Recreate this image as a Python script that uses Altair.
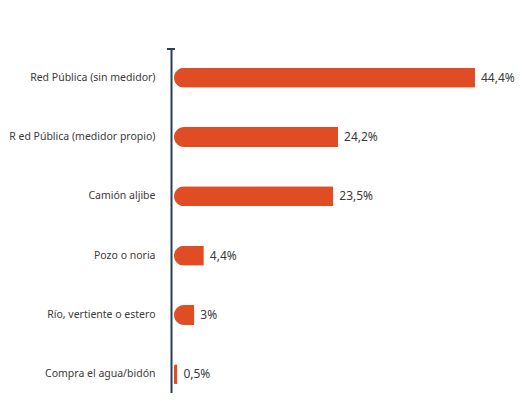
import altair as alt
import pandas as pd

categories = [
    "Red Pública (sin medidor)",
    "R ed Pública (medidor propio)",
    "Camión aljibe",
    "Pozo o noria",
    "Río, vertiente o estero",
    "Compra el agua/bidón",
]
values = [44.4, 24.2, 23.5, 4.4, 3.0, 0.5]
value_labels = ["44,4%", "24,2%", "23,5%", "4,4%", "3%", "0,5%"]

df = pd.DataFrame({"cat": categories, "val": values, "lab": value_labels})

FONT = "Noto Sans"
BAR = "#e04d24"
AXIS = "#2d3e50"

y_enc = alt.Y(
    "cat:N",
    sort=categories,
    title=None,
    scale=alt.Scale(paddingInner=0, paddingOuter=0, range=[0, 356]),
    axis=alt.Axis(
        domain=True,
        domainColor=AXIS,
        domainWidth=2,
        ticks=False,
        grid=False,
        labelPadding=16,
        offset=3,
        labelFont=FONT,
        labelFontSize=10.5,
        labelColor="#3a3a3a",
        labelLimit=300,
    ),
)
x_enc = alt.X(
    "val:Q",
    scale=alt.Scale(domain=[0, 44.4], nice=False, zero=True),
    axis=None,
)

bars = alt.Chart(df).mark_bar(
    color=BAR,
    size=20,
    cornerRadiusTopLeft=10,
    cornerRadiusBottomLeft=10,
).encode(x=x_enc, y=y_enc)

text = alt.Chart(df).mark_text(
    align="left",
    baseline="middle",
    dx=6,
    font=FONT,
    fontSize=12,
    color="#3a3a3a",
).encode(x=x_enc, y=alt.Y("cat:N", sort=categories), text="lab:N")

cap = alt.Chart(df).mark_rule(color=AXIS, strokeWidth=2).encode(
    x=alt.value(-7), x2=alt.value(1), y=alt.value(1), y2=alt.value(1)
)

chart = (
    alt.layer(bars, text, cap)
    .properties(
        width=301,
        height=345,
        background="white",
        autosize=alt.AutoSizeParams(type="none"),
        padding={"left": 166, "top": 40, "right": 40, "bottom": 0},
    )
    .configure_view(strokeWidth=0)
)

chart.save("out.html", embed_options={"renderer": "svg", "actions": False})
